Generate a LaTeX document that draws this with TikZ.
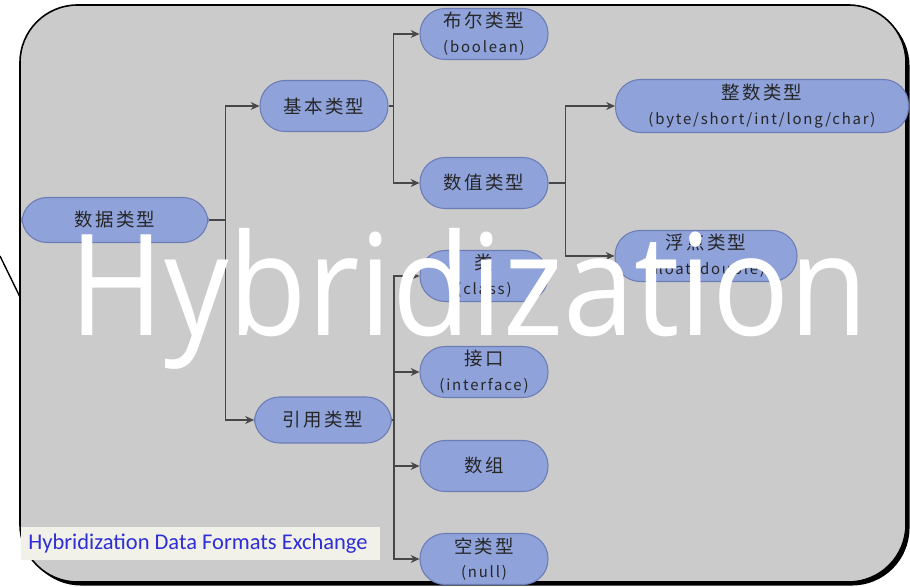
\documentclass[tikz,border=0pt]{standalone}
\usepackage{fontspec}
\usepackage{xcolor}
\newfontfamily\cjk[LetterSpace=12]{Noto Sans CJK SC}
\newfontfamily\wmfont{Open Sans}
\newfontfamily\capfont{Carlito}
\usetikzlibrary{shadows,arrows.meta}

\definecolor{panelgray}{HTML}{CBCBCB}
\definecolor{typefill}{HTML}{8FA2DA}
\definecolor{typeedge}{HTML}{6C7CB5}
\definecolor{linkgray}{HTML}{474747}
\definecolor{capblue}{HTML}{2E2ED6}
\definecolor{capback}{HTML}{F1F1E9}

\newcommand{\subtxt}[1]{{\fontsize{8.5}{10}\selectfont #1}}

\begin{document}
\begin{tikzpicture}[x=0.02cm,y=-0.02cm,
  typebox/.style={draw=typeedge, line width=0.6pt, fill=typefill, rounded corners=0.5cm,
    minimum width=2.56cm, minimum height=1.02cm, align=center, inner sep=1pt,
    text=black!85, font=\cjk\fontsize{10.5}{14}\selectfont},
  link/.style={draw=linkgray, line width=0.6pt},
  tip/.style={link, -{Stealth[length=5pt,width=4.5pt]}}]
  \useasboundingbox (0,0) rectangle (910,587);

  % panel with its shadow, and the stray line on the left
  \fill[panelgray, draw=black, line width=0.9pt, rounded corners=1.15cm,
    drop shadow={fill=black, opacity=1, shadow xshift=2pt, shadow yshift=-2pt}]
    (20,5) rectangle (906,582);
  \draw[line width=0.8pt] (0,256) -- (20,297);

  % caption strip
  \fill[capback] (21,527) rectangle (380,560);
  \node[anchor=west, inner sep=0pt, text=capblue, font=\capfont\fontsize{12.8}{14}\selectfont]
    (caption) at (28,544) {Hybridization Data Formats Exchange};

  % type nodes
  \node[typebox, minimum width=3.72cm, minimum height=0.9cm] (data) at (115,220) {数据类型};
  \node[typebox] (basic) at (324,106) {基本类型};
  \node[typebox, minimum width=2.74cm, minimum height=0.92cm] (ref) at (323,420) {引用类型};

  \node[typebox] (bool) at (484,34) {布尔类型\\\subtxt{(boolean)}};
  \node[typebox] (num) at (484,183) {数值类型};
  \node[typebox, minimum width=5.86cm, minimum height=1.06cm] (int) at (762,106)
    {整数类型\\\subtxt{(byte/short/int/long/char)}};
  \node[typebox, minimum width=3.64cm] (float) at (706,256) {浮点类型\\\subtxt{(float/double)}};

  \node[typebox] (class) at (484,276) {类\\\subtxt{(class)}};
  \node[typebox] (iface) at (484,372) {接口\\\subtxt{(interface)}};
  \node[typebox] (array) at (484,466) {数组};
  \node[typebox] (null) at (484,559) {空类型\\\subtxt{(null)}};

  % connectors
  \draw[link] (data.east) -- ++(17,0) coordinate (j1);
  \draw[tip] (j1) |- (basic.west);
  \draw[tip] (j1) |- (ref.west);

  \draw[link] (basic.east) -- ++(5,0) coordinate (j2);
  \draw[tip] (j2) |- (bool.west);
  \draw[tip] (j2) |- (num.west);

  \draw[link] (num.east) -- ++(17,0) coordinate (j3);
  \draw[tip] (j3) |- (int.west);
  \draw[tip] (j3) |- (float.west);

  \draw[link] (ref.east) -- ++(2,0) coordinate (j4);
  \foreach \n in {class,iface,array,null}
    \draw[tip] (j4) |- (\n.west);

  % watermark
  \node[anchor=base, text=white, inner sep=0pt, yscale=1.1, transform shape,
    font=\wmfont\fontsize{73}{73}\selectfont] (mark) at (469,336) {Hybridization};
\end{tikzpicture}
\end{document}
